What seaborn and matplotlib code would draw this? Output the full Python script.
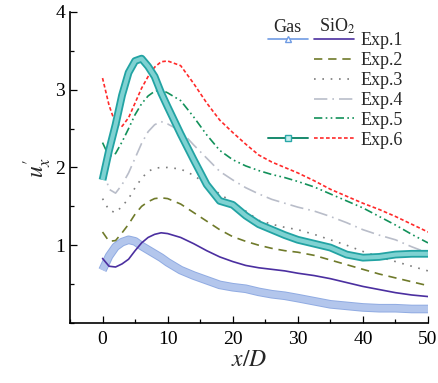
import matplotlib
matplotlib.use("Agg")
import matplotlib.pyplot as plt
import matplotlib.patheffects as pe
from matplotlib.lines import Line2D
from matplotlib.ticker import MultipleLocator
import seaborn as sns
import pandas as pd

# ---- data ----
x_d = [0, 1, 2, 3, 4, 5, 6, 7, 8, 9, 10, 12, 14, 16, 18, 20, 22, 24, 26, 28,
       30, 32.5, 35, 37.5, 40, 42.5, 45, 47.5, 50]

gas_exp1 = [0.68, 0.86, 0.98, 1.04, 1.07, 1.05, 0.99, 0.94, 0.89, 0.84, 0.78,
            0.68, 0.61, 0.55, 0.49, 0.46, 0.44, 0.40, 0.37, 0.35, 0.32, 0.28,
            0.24, 0.22, 0.20, 0.19, 0.19, 0.18, 0.18]
gas_exp6 = [1.84, 2.22, 2.55, 2.93, 3.22, 3.37, 3.40, 3.30, 3.17, 2.96, 2.78,
            2.43, 2.10, 1.78, 1.57, 1.52, 1.38, 1.27, 1.20, 1.13, 1.07, 1.02,
            0.97, 0.88, 0.84, 0.85, 0.88, 0.89, 0.89]
sio2_exp1 = [0.83, 0.73, 0.72, 0.76, 0.82, 0.93, 1.03, 1.10, 1.14, 1.16, 1.15,
             1.10, 1.02, 0.93, 0.85, 0.79, 0.74, 0.71, 0.69, 0.67, 0.64, 0.61,
             0.57, 0.52, 0.47, 0.43, 0.39, 0.36, 0.34]
sio2_exp2 = [1.17, 1.05, 1.06, 1.16, 1.27, 1.40, 1.50, 1.56, 1.60, 1.61, 1.60,
             1.53, 1.42, 1.31, 1.20, 1.11, 1.05, 1.00, 0.96, 0.93, 0.91, 0.87,
             0.81, 0.75, 0.69, 0.63, 0.58, 0.53, 0.48]
sio2_exp3 = [1.60, 1.45, 1.42, 1.50, 1.60, 1.74, 1.86, 1.95, 1.99, 2.00, 2.00,
             1.98, 1.90, 1.78, 1.66, 1.55, 1.44, 1.32, 1.27, 1.23, 1.20, 1.14,
             1.07, 1.00, 0.92, 0.85, 0.79, 0.73, 0.67]
sio2_exp4 = [2.02, 1.72, 1.67, 1.78, 1.93, 2.12, 2.31, 2.46, 2.55, 2.59, 2.56,
             2.47, 2.29, 2.12, 1.95, 1.84, 1.74, 1.66, 1.59, 1.54, 1.49, 1.44,
             1.37, 1.29, 1.20, 1.13, 1.07, 0.98, 0.90]
sio2_exp5 = [2.32, 2.14, 2.18, 2.33, 2.50, 2.68, 2.82, 2.92, 2.98, 3.00, 2.96,
             2.86, 2.65, 2.42, 2.22, 2.10, 2.02, 1.96, 1.91, 1.87, 1.82, 1.75,
             1.66, 1.57, 1.48, 1.37, 1.26, 1.14, 1.03]
sio2_exp6 = [3.15, 2.80, 2.56, 2.53, 2.64, 2.83, 3.02, 3.17, 3.29, 3.36, 3.37,
             3.31, 3.08, 2.83, 2.61, 2.45, 2.30, 2.16, 2.07, 2.00, 1.93, 1.83,
             1.72, 1.63, 1.54, 1.46, 1.37, 1.27, 1.17]

exp_labels = ["Exp.1", "Exp.2", "Exp.3", "Exp.4", "Exp.5", "Exp.6"]
x_ticks = [0, 10, 20, 30, 40, 50]
y_ticks = [1, 2, 3, 4]

# ---- style ----
sns.set_style("ticks")
plt.rcParams["font.family"] = ["Liberation Serif", "DejaVu Serif"]
plt.rcParams["mathtext.fontset"] = "stix"

fig = plt.figure(figsize=(4.38, 3.83), dpi=100)
ax = fig.add_axes([0.1598, 0.1567, 0.8174, 0.812])

sio2_series = [sio2_exp1, sio2_exp2, sio2_exp3, sio2_exp4, sio2_exp5, sio2_exp6]
sio2_colors = ["#4b2fa0", "#6f7a2a", "#7c7c7c", "#b9bdc9", "#12915a", "#ff2a2a"]
sio2_styles = ["-", (0, (5, 3.5)), (0, (1, 4)), (0, (8, 3, 1, 3)),
               (0, (5, 2, 1, 2, 1, 2)), (0, (2.2, 1.4))]

# gas band (Exp.1)
df = pd.DataFrame({"x": x_d, "g1": gas_exp1, "g6": gas_exp6})
sns.lineplot(data=df, x="x", y="g1", ax=ax, color="#b3c6ec", lw=4.8,
             solid_capstyle="butt", solid_joinstyle="round",
             path_effects=[pe.Stroke(linewidth=6.2, foreground="#90abe2",
                                     joinstyle="round"), pe.Normal()])

for ys, c, ls in zip(sio2_series, sio2_colors, sio2_styles):
    sns.lineplot(x=x_d, y=ys, ax=ax, color=c, lw=1.2, linestyle=ls,
                 solid_joinstyle="round", dash_joinstyle="round")

# gas band (Exp.6)
sns.lineplot(data=df, x="x", y="g6", ax=ax, color="#7fd2d2", lw=3.0,
             solid_capstyle="butt", solid_joinstyle="round",
             path_effects=[pe.Stroke(linewidth=5.6, foreground="#22a3a3",
                                     joinstyle="round"), pe.Normal()])

ax.set_xlim(-5, 50)
ax.set_ylim(0, 4)
ax.set_xticks(x_ticks)
ax.set_yticks(y_ticks)
ax.xaxis.set_minor_locator(MultipleLocator(5))
ax.yaxis.set_minor_locator(MultipleLocator(0.5))
ax.tick_params(which="both", direction="in", colors="black", labelsize=14,
               width=0.9)
ax.tick_params(which="major", length=5)
ax.tick_params(which="minor", length=3)
ax.tick_params(axis="x", pad=6)
for s in ["top", "right"]:
    ax.spines[s].set_visible(False)
for s in ["left", "bottom"]:
    ax.spines[s].set_color("black")
    ax.spines[s].set_linewidth(1.2)

ax.set_xlabel(r"$x/D$", fontsize=17, labelpad=1)
ax.set_ylabel(r"$u_x^{\prime}$", fontsize=17, labelpad=1)

# ---- legend (two columns: Gas / SiO2) ----
blank = Line2D([], [], lw=0, alpha=0)
gas_h1 = Line2D([], [], color="#6f9be3", lw=1.2, marker="^", markersize=4,
                markerfacecolor="white", markeredgecolor="#6f9be3")
gas_h6 = Line2D([], [], color="#178a6e", lw=1.4, marker="s", markersize=4,
                markerfacecolor="#c8f0f0", markeredgecolor="#2aa8a8")
exp_h = [Line2D([], [], color=c, lw=1.2, linestyle=ls)
         for c, ls in zip(sio2_colors, sio2_styles)]
handles = [gas_h1, blank, blank, blank, blank, gas_h6] + exp_h
labels = [""] * 6 + exp_labels
leg = ax.legend(handles, labels, ncol=2, loc="upper left",
                bbox_to_anchor=(0.553, 0.935), frameon=False, fontsize=13,
                handlelength=2.2, handletextpad=0.35, columnspacing=0.0,
                labelspacing=0.16, borderpad=0, borderaxespad=0)

ax.text(0.607, 0.937, "Gas", transform=ax.transAxes, ha="center",
        va="baseline", fontsize=13)
ax.text(0.745, 0.937, r"SiO$_2$", transform=ax.transAxes, ha="center",
        va="baseline", fontsize=13)

fig.savefig("out.png", dpi=100)
